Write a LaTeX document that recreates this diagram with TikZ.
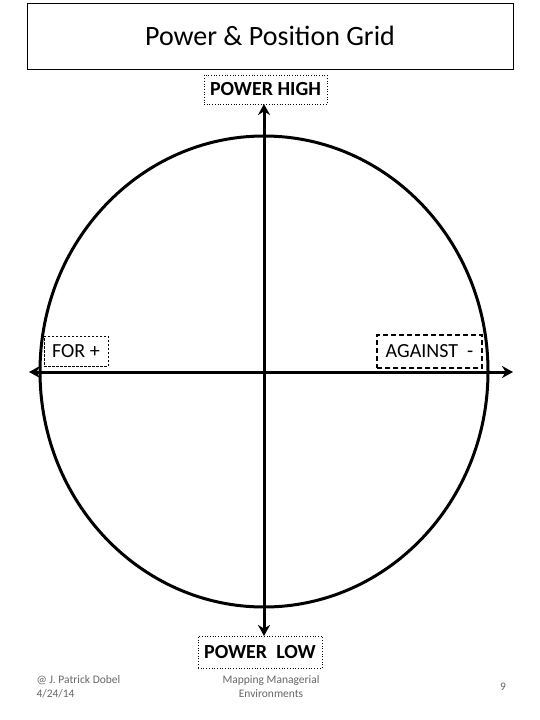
\documentclass[tikz,border=0pt]{standalone}
\usepackage{fontspec}
\setmainfont{Carlito}
\usetikzlibrary{arrows.meta,shapes.geometric}
\begin{document}
\begin{tikzpicture}[x=1pt,y=-1pt,
  thick line/.style={line width=3pt},
  tagbox/.style={draw, line width=0.7pt, dotted, inner sep=0pt},
  footer/.style={text=black!60, font=\fontsize{11.5}{14}\selectfont, align=center},
  arr/.style={thick line, -{Stealth[length=11pt,width=12pt]}}]
\useasboundingbox (0,0) rectangle (540,720);
\node[draw, line width=0.9pt, minimum width=486pt, minimum height=66pt, inner sep=0pt,
  font=\fontsize{28}{32}\selectfont] (title) at (270,36) {Power \& Position Grid};
\node[tagbox, minimum width=123pt, minimum height=29pt, font=\bfseries\fontsize{20}{24}\selectfont] (high) at (265.5,89.5) {POWER HIGH};
\node[tagbox, minimum width=124pt, minimum height=32pt, font=\bfseries\fontsize{20}{24}\selectfont] (low) at (260,652) {POWER\ \ LOW};
\node[draw, line width=0.7pt, dash pattern=on 2.5pt off 1.5pt, minimum width=64pt, minimum height=30pt, inner sep=0pt,
  font=\fontsize{20}{24}\selectfont] (for) at (76,351) {FOR +};
\node[draw, line width=2pt, dash pattern=on 5pt off 3pt, minimum width=105pt, minimum height=33pt, inner sep=0pt,
  font=\fontsize{20}{24}\selectfont] (against) at (429.5,351.5) {AGAINST \ -};
\node[draw, ellipse, thick line, minimum width=448pt, minimum height=471pt, inner sep=0pt] (circ) at (264,371.5) {};
\coordinate (c) at (264,372);
\coordinate (l) at (29,372);
\coordinate (r) at (513,372);
\coordinate (t) at (264,104);
\coordinate (b) at (264,636);
\draw[arr] (c) -- (l);
\draw[arr] (c) -- (r);
\draw[arr] (c) -- (t);
\draw[arr] (c) -- (b);
\node[footer, anchor=north west, align=left] (author) at (33,672) {@ J. Patrick Dobel\\4/24/14};
\node[footer, anchor=north] (topic) at (271,672) {Mapping Managerial\\Environments};
\node[footer] (page) at (503,687) {9};
\end{tikzpicture}
\end{document}
